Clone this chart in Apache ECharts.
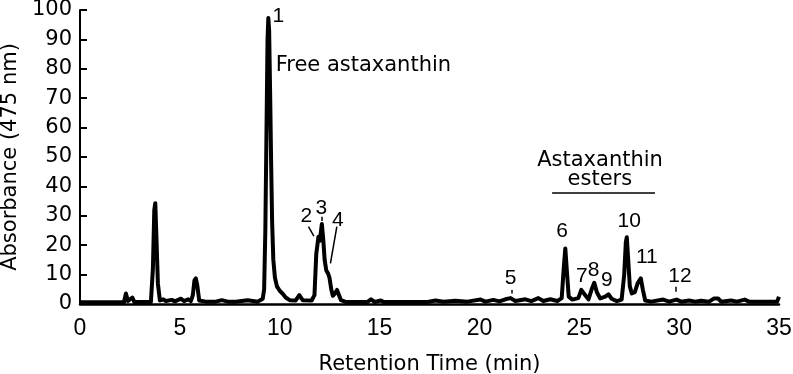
<!DOCTYPE html>
<html>
<head>
<meta charset="utf-8">
<script src="https://cdn.jsdelivr.net/npm/echarts@6/dist/echarts.min.js"></script>
<style>html,body{margin:0;padding:0;background:#fff;}#c{width:793px;height:374px;}</style>
</head>
<body>
<div id="c"></div>
<script>
// Retention time (min) and absorbance (475 nm)
const times = [0,2.2,2.3,2.4,2.5,2.62,2.72,3.55,3.65,3.72,3.77,3.82,3.9,4.0,4.1,4.17,4.3,4.6,4.75,5.06,5.2,5.42,5.55,5.65,5.73,5.8,5.87,5.97,6.3,6.8,7.1,7.4,7.8,7.9,8.4,8.5,8.9,9.0,9.15,
  9.22,9.28,9.34,9.39,9.43,9.47,9.52,9.57,9.62,9.68,9.76,9.86,10.0,10.15,10.3,10.5,10.8,10.98,11.15,11.6,
  11.74,11.83,11.94,12.01,12.11,12.18,12.25,12.33,12.42,12.49,12.58,12.66,12.76,12.87,12.97,13.07,13.3,
  14.4,14.57,14.75,15.07,15.2,17.4,17.8,18.2,18.8,19.4,20.06,20.3,20.7,21.0,21.3,21.56,21.8,22.3,22.6,22.95,23.2,23.55,23.9,
  24.12,24.22,24.3,24.38,24.47,24.65,24.95,25.1,25.18,25.3,25.46,25.62,25.75,25.88,26.05,26.3,26.46,26.62,26.88,
  27.12,27.25,27.33,27.38,27.44,27.53,27.63,27.78,27.92,28.08,28.18,28.3,28.6,29.2,29.5,29.87,30.1,30.5,30.8,31.1,31.5,31.75,31.95,32.1,32.6,32.9,33.28,33.5,34.9,35];
const absorbance = [0.6,0.6,3.6,1.0,0.8,2.2,0.7,0.7,12,32,34.3,24,7,1.2,1.0,1.6,1.0,1.4,0.9,1.8,1.0,1.6,1.0,3,8,8.7,6.5,1.2,0.8,0.8,1.3,0.8,0.8,1.3,1.3,0.8,0.8,1.2,1.8,
  5,25,60,90,97.3,93,72,48,28,15,9,6,4.5,3.5,2.2,1.3,1.2,3,1.3,1.2,
  3,17,22.9,21.5,27.2,22,15,11.5,10.4,9,5,2.8,3.5,4.8,3,1.3,0.7,
  0.7,1.6,0.7,1.2,0.7,0.7,1.2,0.8,1.1,0.8,1.5,0.8,1.4,0.9,1.6,2.0,1.0,1.6,1.0,2.0,1.0,1.6,1.0,
  2,12,18.9,11,2.5,1.5,2.0,4.8,5.3,3,1.6,5,7.2,4,1.9,2.5,3.3,1.8,1.0,
  1.5,10,21,22.7,16,6,3.6,4,7,8.7,5,1.2,0.8,1.5,0.8,1.5,0.8,1.2,0.8,1.1,0.8,1.9,1.9,0.8,1.2,0.8,1.5,0.8,0.8,2.5];

// Axis ticks
const xTicks = [0,5,10,15,20,25,30,35];
const yTicks = [0,10,20,30,40,50,60,70,80,90,100];

// Peak annotations (text, time, absorbance) in data coordinates
const peakLabels = ['1','2','3','4','5','6','7','8','9','10','11','12'];
const peakLabelTimes = [9.93,11.33,12.08,12.91,21.56,24.14,25.13,25.71,26.38,27.5,28.38,30.04];
const peakLabelValues = [98.0,29.7,32.6,28.6,8.9,24.9,9.3,11.6,8.2,28.0,15.9,9.3];
const groupLabels = ['Free astaxanthin','Astaxanthin','esters'];
const groupLabelTimes = [14.19,26.04,26.03];
const groupLabelValues = [81,48.8,42.2];
// Leader lines: [t1, v1, t2, v2]
const leaders = [[11.44,26.3,11.71,23.1],[12.08,29.7,12.08,28.2],[12.86,26.3,12.54,13.8],[21.6,4.8,21.6,3.6],[29.84,5.9,29.84,4.2]];
const esterBar = [23.64,37.7,28.79,37.7];

const chart = echarts.init(document.getElementById('c'), null, {renderer:'canvas'});
const trace = times.map((t,i)=>[t, absorbance[i]]);
const peakData = peakLabels.map((n,i)=>({name:n, value:[peakLabelTimes[i], peakLabelValues[i]]}));
const groupData = groupLabels.map((n,i)=>({name:n, value:[groupLabelTimes[i], groupLabelValues[i]]}));
const leaderData = leaders.map(l=>[{coord:[l[0],l[1]]},{coord:[l[2],l[3]]}]);

chart.setOption({
  animation:false,
  backgroundColor:'#fff',
  grid:{left:80, right:14, top:10, bottom:70, containLabel:false, outerBoundsMode:'none'},
  xAxis:{
    type:'value', min:xTicks[0], max:xTicks[xTicks.length-1], interval:5,
    name:'Retention Time (min)', nameLocation:'middle', nameGap:50,
    nameTextStyle:{fontFamily:'DejaVu Sans', fontSize:21, color:'#000'},
    axisLine:{show:true, onZero:false, lineStyle:{color:'#000', width:2.5}},
    axisTick:{show:false},
    axisLabel:{fontFamily:'Liberation Sans', fontSize:23, color:'#000', margin:13},
    splitLine:{show:false}
  },
  yAxis:{
    type:'value', min:yTicks[0], max:yTicks[yTicks.length-1], interval:10,
    name:'Absorbance (475 nm)', nameLocation:'middle', nameGap:43, nameRotate:90,
    nameTextStyle:{fontFamily:'DejaVu Sans', fontSize:21, color:'#000'},
    axisLine:{show:true, lineStyle:{color:'#000', width:2}},
    axisTick:{show:true, inside:true, length:7, lineStyle:{color:'#000', width:2}},
    axisLabel:{fontFamily:'DejaVu Sans', fontSize:21, color:'#000', margin:8},
    splitLine:{show:false}
  },
  series:[
    {
      type:'line', data:trace, showSymbol:false, symbol:'none',
      lineStyle:{color:'#000', width:4, join:'round'}, z:3
    },
    {
      type:'scatter', data:peakData, symbolSize:0, silent:true,
      itemStyle:{opacity:1},
      label:{show:true, position:'inside', formatter:p=>p.name, color:'#000', opacity:1,
        textBorderWidth:0, fontFamily:'Liberation Sans', fontSize:21},
      markLine:{silent:true, symbol:['none','none'], animation:false,
        label:{show:false}, lineStyle:{color:'#000', width:1.5, type:'solid', opacity:1},
        data:leaderData.concat([[{coord:[esterBar[0],esterBar[1]]},{coord:[esterBar[2],esterBar[3]]}]])}
    },
    {
      type:'scatter', data:groupData, symbolSize:0, silent:true,
      itemStyle:{opacity:1},
      label:{show:true, position:'inside', formatter:p=>p.name, color:'#000', opacity:1,
        textBorderWidth:0, fontFamily:'DejaVu Sans', fontSize:21}
    }
  ]
});
</script>
</body>
</html>
